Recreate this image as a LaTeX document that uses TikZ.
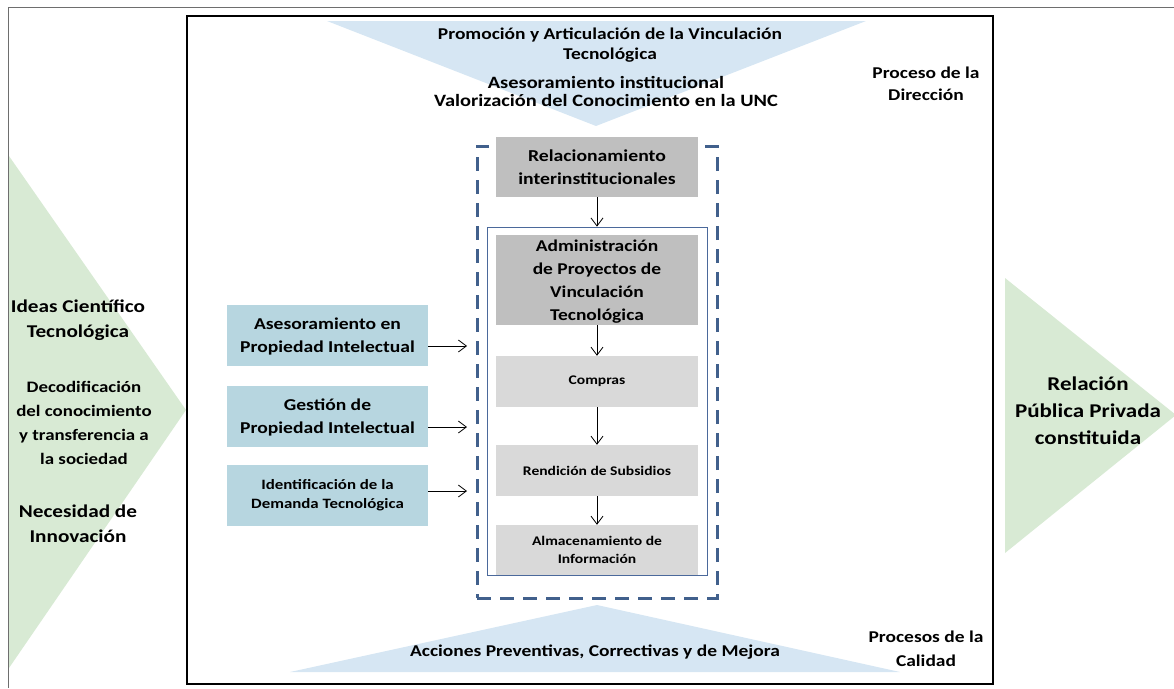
\documentclass[tikz,border=0pt]{standalone}
\usepackage{fontspec}
\setmainfont{Carlito}[FakeStretch=1.18]
\usetikzlibrary{arrows.meta}
\definecolor{flowgreen}{RGB}{216,234,212}
\definecolor{flowblue}{RGB}{214,230,243}
\definecolor{piblue}{RGB}{183,214,224}
\definecolor{dashblue}{RGB}{65,96,140}
\definecolor{framegray}{RGB}{110,110,110}
\definecolor{darkgray}{RGB}{191,191,191}
\definecolor{lightgray}{RGB}{217,217,217}
\definecolor{linkblue}{RGB}{75,105,155}

\begin{document}
\begin{tikzpicture}[x=1pt,y=-1pt,
    >={Straight Barb[length=8pt,width=12pt]},
    txt/.style 2 args={align=center,font=\bfseries\fontsize{#1}{#2}\selectfont},
    procbox/.style={fill=#1,minimum width=202pt,minimum height=51pt,inner sep=1pt},
    pibox/.style={fill=piblue,minimum width=201pt,minimum height=61pt,inner sep=1pt}]
    \useasboundingbox (0,0) rectangle (1174,688);

    % Outer frame and main box
    \draw[framegray,line width=1pt] (8.5,688) -- (8.5,7.5) -- (1174,7.5);
    \draw[line width=2.2pt] (187,16) rectangle (993,684);

    % Input and output chevrons
    \fill[flowgreen] (9,156) -- (186,410) -- (9,668) -- cycle;
    \fill[flowgreen] (1005,278) -- (1176,415) -- (1005,553) -- cycle;

    % Direction and quality wedges
    \fill[flowblue] (327,21) -- (866,21) -- (596,126) -- cycle;
    \fill[flowblue] (290,672) -- (900,672) -- (597,605) -- cycle;

    % Texts on the wedges
    \node[txt={16.5}{20}] (promo) at (610,45) {Promoción y Articulación de la Vinculación\\Tecnológica};
    \node[txt={17.3}{18}] (aseso) at (606,91) {Asesoramiento institucional\\Valorización del Conocimiento en la UNC};
    \node[txt={16.5}{22}] (direc) at (926,84) {Proceso de la\\Dirección};
    \node[txt={16.5}{20}] (acciones) at (595,652) {Acciones Preventivas, Correctivas y de Mejora};
    \node[txt={16.5}{24}] (calidad) at (926,649) {Procesos de la\\Calidad};

    % Inputs
    \node[txt={18}{25}] (ideas) at (78,320) {Ideas Científico\\Tecnológica};
    \node[txt={16}{24}] (decod) at (84,423) {Decodificación\\del conocimiento\\y transferencia a\\la sociedad};
    \node[txt={18}{25}] (necesidad) at (78,524) {Necesidad de\\Innovación};

    % Output
    \node[txt={19.5}{27}] (relacion) at (1088,411) {Relación\\Pública Privada\\constituida};

    % Process frame
    \node[draw=dashblue,line width=3pt,dash pattern=on 14pt off 9pt,minimum width=240pt,minimum height=452pt] (frame) at (597,372) {};
    \node[draw=linkblue,line width=0.8pt,minimum width=220pt,minimum height=348pt] (inner) at (597,401) {};

    % Process steps
    \node[procbox=darkgray,minimum height=60pt,text depth=0pt,txt={16.7}{23}] (rel) at (597,167) {Relacionamiento\\interinstitucionales};
    \node[procbox=darkgray,minimum height=90pt,text depth=-6pt,txt={16.5}{23}] (admin) at (597,280) {Administración\\de Proyectos de\\Vinculación\\Tecnológica};
    \node[procbox=lightgray,txt={13.2}{16}] (compras) at (597,381.5) {Compras};
    \node[procbox=lightgray,txt={13.2}{16}] (rendicion) at (597,470.5) {Rendición de Subsidios};
    \node[procbox=lightgray,minimum height=50pt,txt={13.2}{18}] (almacen) at (597,550) {Almacenamiento de\\Información};

    % Support boxes
    \node[pibox,text depth=-4pt,txt={16.6}{23}] (pi1) at (327.5,335.5) {Asesoramiento en\\Propiedad Intelectual};
    \node[pibox,text depth=-3pt,txt={16.6}{23}] (pi2) at (327.5,416) {Gestión de\\Propiedad Intelectual};
    \node[pibox,txt={14.3}{19}] (pi3) at (327.5,495.5) {Identificación de la\\Demanda Tecnológica};
    \coordinate (in1) at (467,346);
    \coordinate (in2) at (467,427);
    \coordinate (in3) at (467,491);

    % Connectors
    \draw[->,line width=0.8pt] (rel) -- (inner);
    \draw[->,line width=0.8pt] (admin) -- (compras);
    \draw[->,line width=0.8pt] (compras) -- (rendicion);
    \draw[->,line width=0.8pt] (rendicion) -- (almacen);
    \draw[->,line width=0.8pt] (pi1.east |- in1) -- (in1);
    \draw[->,line width=0.8pt] (pi2.east |- in2) -- (in2);
    \draw[->,line width=0.8pt] (pi3.east |- in3) -- (in3);
\end{tikzpicture}
\end{document}
